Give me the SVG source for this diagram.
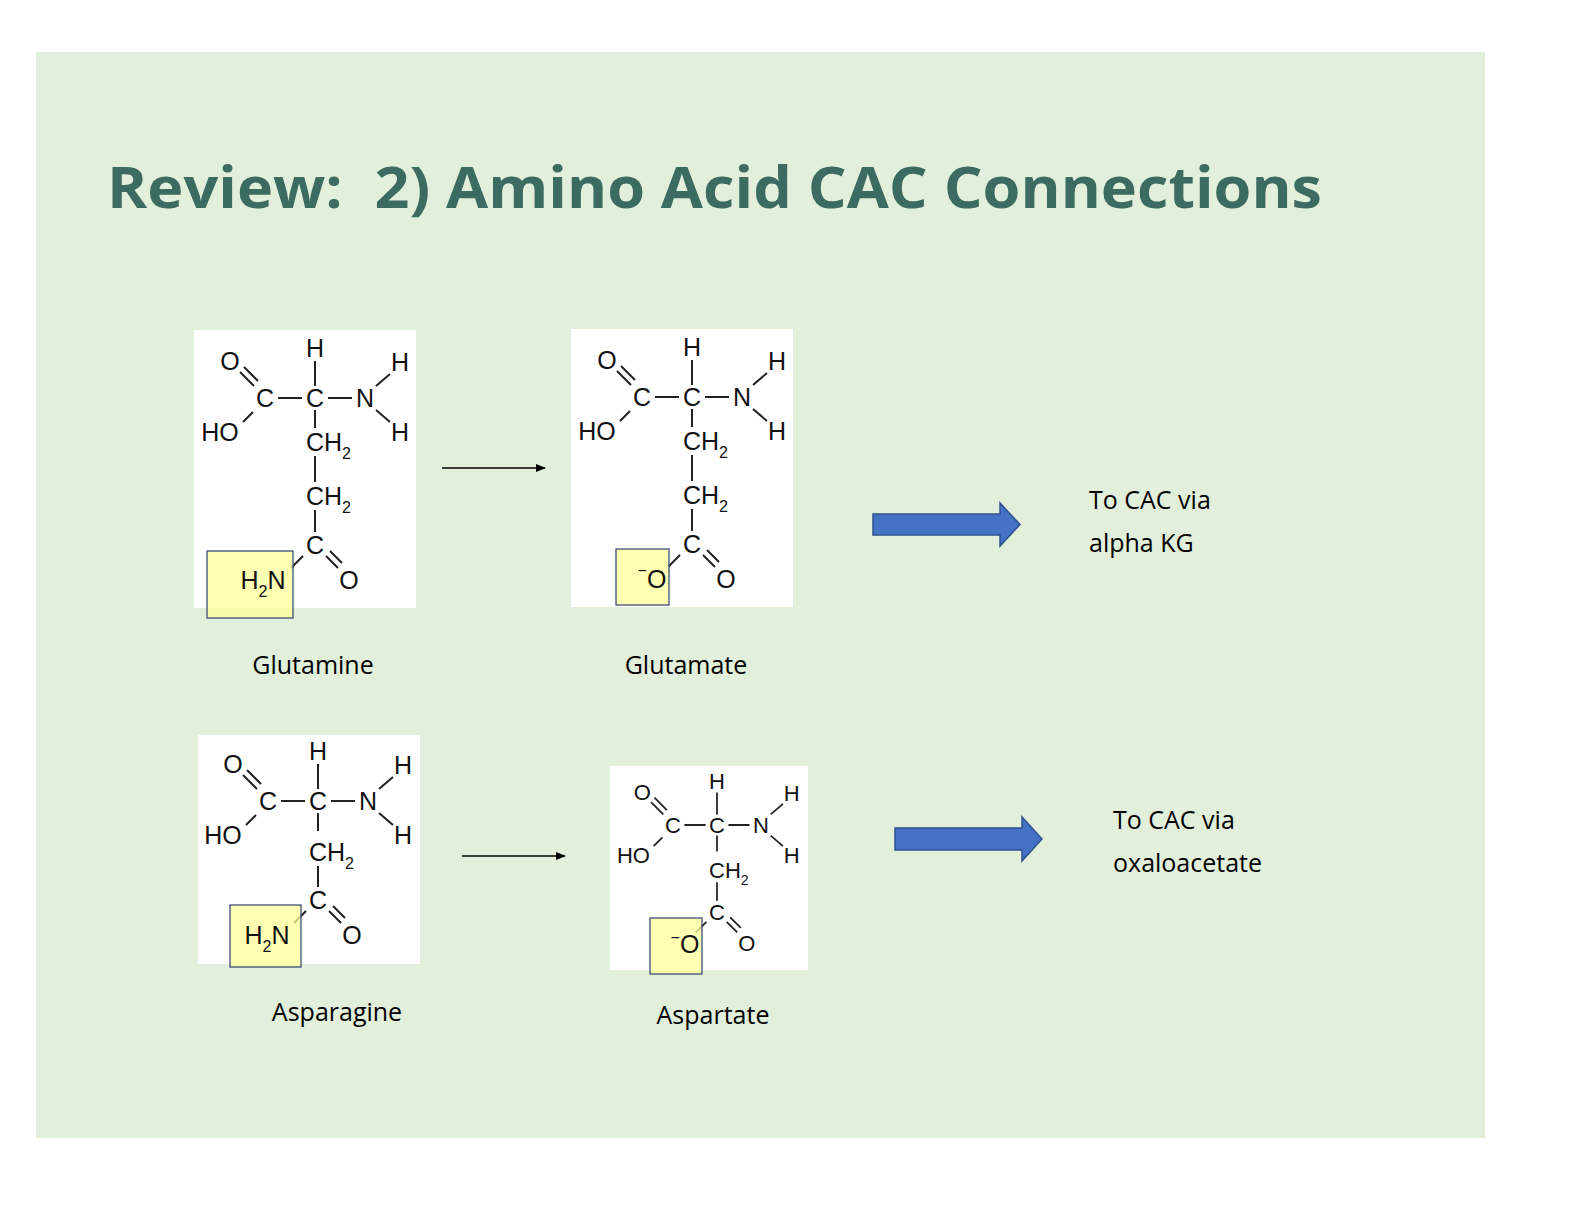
<svg xmlns="http://www.w3.org/2000/svg" xmlns:xlink="http://www.w3.org/1999/xlink" width="1584" height="1224" viewBox="0 0 1584 1224">
<style>
.a{font-family:"Liberation Sans",Arial,sans-serif;font-size:25px;fill:#111;text-anchor:middle}
.c{text-anchor:start}
.s{font-size:16px}
.b{stroke:#222;stroke-width:2;fill:none}
.lbl{font-family:"Open Sans",sans-serif;font-size:25px;fill:#000}
.hl{fill:#FFFF99;fill-opacity:0.75;stroke:#2F3F6F;stroke-width:1.2}
</style>
<defs>
<marker id="ah" markerWidth="10" markerHeight="8" refX="9" refY="4" orient="auto" markerUnits="userSpaceOnUse"><path d="M0,0L10,4L0,8z" fill="#000"/></marker>
<g id="top">
<text class="a" x="-85" y="-28">O</text>
<text class="a" x="-50" y="9">C</text>
<text class="a" x="0" y="9">C</text>
<text class="a" x="0" y="-41">H</text>
<text class="a" x="50" y="9">N</text>
<text class="a" x="85" y="-27">H</text>
<text class="a" x="85" y="43">H</text>
<text class="a" x="-95" y="43">HO</text>
<path class="b" d="M-75,-26L-61,-12M-71,-31L-57,-17M-37,0H-13M13,0H37M0,-37V-12M61,-12L75,-24M61,12L75,24M-62,14L-72,24M0,12V30"/>
</g>
</defs>
<rect x="36" y="52" width="1449" height="1086" fill="#E2EFDA"/>
<text x="107" y="208" xml:space="preserve" font-family="'Open Sans',sans-serif" font-size="58" font-weight="bold" fill="#3B6B61" textLength="1215" lengthAdjust="spacingAndGlyphs">Review:  2) Amino Acid CAC Connections</text>

<g id="glutamine">
<rect x="194" y="330" width="222" height="278" fill="#fff"/>
<g transform="translate(315,398)">
<use xlink:href="#top"/>
<text class="a c" x="-9" y="53">CH<tspan class="s" dy="8">2</tspan></text>
<text class="a c" x="-9" y="107">CH<tspan class="s" dy="8">2</tspan></text>
<text class="a" x="0" y="156">C</text>
<text class="a" x="34" y="191">O</text>
<path class="b" d="M0,58V84M0,112V134M11,158L23,170M15,153L27,165M-12,158L-24,170"/>
</g>
<rect class="hl" x="207" y="551" width="86" height="67"/>
<text class="a" x="263" y="589">H<tspan class="s" dy="8">2</tspan><tspan dy="-8">N</tspan></text>
</g>

<g id="glutamate">
<rect x="571" y="329" width="222" height="278" fill="#fff"/>
<g transform="translate(692,397)">
<use xlink:href="#top"/>
<text class="a c" x="-9" y="53">CH<tspan class="s" dy="8">2</tspan></text>
<text class="a c" x="-9" y="107">CH<tspan class="s" dy="8">2</tspan></text>
<text class="a" x="0" y="156">C</text>
<text class="a" x="34" y="191">O</text>
<path class="b" d="M0,58V84M0,112V134M11,158L23,170M15,153L27,165M-12,158L-24,170"/>
</g>
<rect class="hl" x="616" y="549" width="53" height="56"/>
<text class="a" x="652" y="588"><tspan class="s" dy="-12">−</tspan><tspan dy="12">O</tspan></text>
</g>

<g id="asparagine">
<rect x="198" y="735" width="222" height="229" fill="#fff"/>
<g transform="translate(318,801)">
<use xlink:href="#top"/>
<text class="a c" x="-9" y="60">CH<tspan class="s" dy="8">2</tspan></text>
<text class="a" x="0" y="108">C</text>
<text class="a" x="34" y="143">O</text>
<path class="b" d="M0,65V86M11,110L23,122M15,105L27,117M-12,110L-24,122"/>
</g>
<rect class="hl" x="230" y="905" width="71" height="62"/>
<text class="a" x="267" y="944">H<tspan class="s" dy="8">2</tspan><tspan dy="-8">N</tspan></text>
</g>

<g id="aspartate">
<rect x="610" y="766" width="198" height="204" fill="#fff"/>
<g transform="translate(717,825) scale(0.88)">
<use xlink:href="#top"/>
<text class="a c" x="-9" y="60">CH<tspan class="s" dy="8">2</tspan></text>
<text class="a" x="0" y="108">C</text>
<text class="a" x="34" y="143">O</text>
<path class="b" d="M0,65V86M11,110L23,122M15,105L27,117M-12,110L-24,122"/>
</g>
<rect class="hl" x="650" y="918" width="52" height="56"/>
<text class="a" x="685" y="953" font-size="22"><tspan class="s" dy="-10">−</tspan><tspan dy="10">O</tspan></text>
</g>

<g id="connectors">
<line x1="442" y1="468" x2="545" y2="468" stroke="#000" stroke-width="1.3" marker-end="url(#ah)"/>
<line x1="462" y1="856" x2="565" y2="856" stroke="#000" stroke-width="1.3" marker-end="url(#ah)"/>
<path d="M873,514H1000V503L1020,524.5L1000,546V535H873Z" fill="#4472C4" stroke="#2F528F" stroke-width="1.5"/>
<path d="M895,828H1022V817L1042,839L1022,861V850H895Z" fill="#4472C4" stroke="#2F528F" stroke-width="1.5"/>
</g>

<g id="labels">
<text class="lbl" x="313" y="674" text-anchor="middle">Glutamine</text>
<text class="lbl" x="686" y="674" text-anchor="middle">Glutamate</text>
<text class="lbl" x="337" y="1021" text-anchor="middle">Asparagine</text>
<text class="lbl" x="713" y="1024" text-anchor="middle">Aspartate</text>
<text class="lbl" x="1089" y="509" font-size="28">To CAC via</text>
<text class="lbl" x="1089" y="552" font-size="28">alpha KG</text>
<text class="lbl" x="1113" y="829" font-size="28">To CAC via</text>
<text class="lbl" x="1113" y="872" font-size="28">oxaloacetate</text>
</g>
</svg>
